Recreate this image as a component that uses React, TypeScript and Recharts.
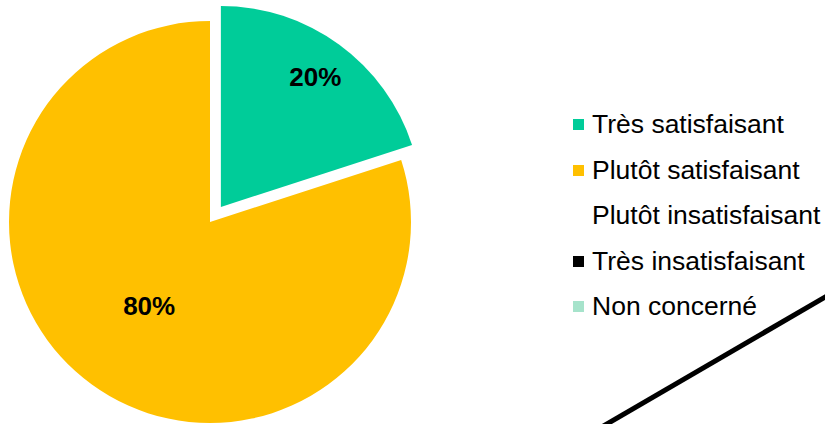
import { Legend, Pie, PieChart, Sector } from 'recharts';

const CATEGORIES = [
    'Très satisfaisant',
    'Plutôt satisfaisant',
    'Plutôt insatisfaisant',
    'Très insatisfaisant',
    'Non concerné',
];
const VALUES = [20, 80, 0, 0, 0];
const COLORS = ['#00CC99', '#FFC000', '#FFFFFF', '#000000', '#A6E3CB'];

// pulled-out slice and label distance (fraction of radius) per category
const EXPLODED = ['Très satisfaisant'];
const EXPLODE_PX = 18.5;
const LABEL_RADIUS: Record<string, number> = {
    'Très satisfaisant': 0.8,
    'Plutôt satisfaisant': 0.515,
};

const RADIAN = Math.PI / 180;
const FONT = '"Liberation Sans", Arial, sans-serif';

const data = CATEGORIES.map((name, i) => ({ name, value: VALUES[i], fill: COLORS[i] }));

function offsetFor(name: string, midAngle: number) {
    if (!EXPLODED.includes(name)) return { dx: 0, dy: 0 };
    return {
        dx: EXPLODE_PX * Math.cos(-midAngle * RADIAN),
        dy: EXPLODE_PX * Math.sin(-midAngle * RADIAN),
    };
}

function renderSector(props: any) {
    const { dx, dy } = offsetFor(props.name ?? props.payload?.name, props.midAngle);
    return <Sector {...props} cx={props.cx + dx} cy={props.cy + dy} stroke="none" />;
}

function renderLabel(props: any) {
    const { cx, cy, midAngle, outerRadius, value, name } = props;
    if (!value) return null;
    const { dx, dy } = offsetFor(name, midAngle);
    const r = outerRadius * (LABEL_RADIUS[name] ?? 0.6);
    const x = cx + dx + r * Math.cos(-midAngle * RADIAN);
    const y = cy + dy + r * Math.sin(-midAngle * RADIAN);
    return (
        <text
            x={x}
            y={y}
            textAnchor="middle"
            dominantBaseline="central"
            fill="#000"
            fontFamily={FONT}
            fontWeight="bold"
            fontSize={26}
        >
            {`${Math.round(props.percent * 100)}%`}
        </text>
    );
}

function LegendList() {
    return (
        <ul style={{ listStyle: 'none', margin: 0, padding: 0, fontFamily: FONT }}>
            {data.map((d) => (
                <li
                    key={d.name}
                    style={{ display: 'flex', alignItems: 'center', height: 45.5, fontSize: 26.5, color: '#000', whiteSpace: 'nowrap' }}
                >
                    <span
                        style={{
                            display: 'inline-block',
                            width: 11,
                            height: 11,
                            background: d.fill,
                            marginRight: 8,
                            flexShrink: 0,
                        }}
                    />
                    {d.name}
                </li>
            ))}
        </ul>
    );
}

export default function App() {
    return (
        <div style={{ position: 'absolute', left: 0, top: 0, width: 825, height: 424, background: '#fff', overflow: 'hidden' }}>
            <PieChart width={825} height={424} margin={{ top: 0, right: 0, bottom: 0, left: 0 }}>
                <Pie
                    data={data}
                    dataKey="value"
                    nameKey="name"
                    cx={210}
                    cy={222}
                    outerRadius={201}
                    startAngle={90}
                    endAngle={-270}
                    stroke="none"
                    shape={renderSector}
                    label={renderLabel}
                    labelLine={false}
                    isAnimationActive={false}
                />
                <Legend
                    content={() => <LegendList />}
                    wrapperStyle={{ position: 'absolute', left: 573, top: 102, width: 270 }}
                />
            </PieChart>
            <svg width={825} height={424} style={{ position: 'absolute', left: 0, top: 0, pointerEvents: 'none' }}>
                <line x1={600} y1={428} x2={832} y2={293} stroke="#000" strokeWidth={5} />
            </svg>
        </div>
    );
}
